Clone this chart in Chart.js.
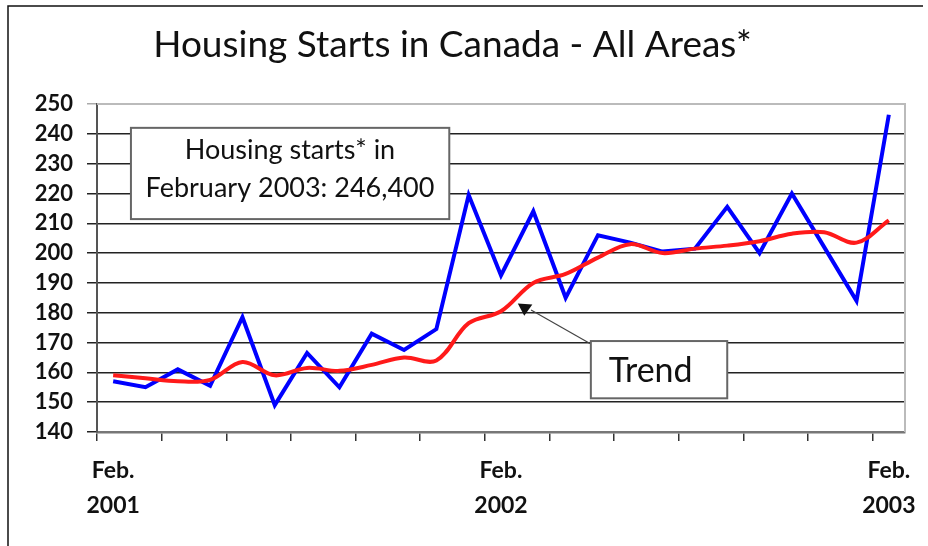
<!DOCTYPE html>
<html>
<head>
<meta charset="utf-8">
<script src="https://cdn.jsdelivr.net/npm/chart.js@4/dist/chart.umd.min.js"></script>
<style>
  html, body { margin: 0; padding: 0; background: #fff; }
  #wrap { width: 928px; height: 546px; position: relative; }
</style>
</head>
<body>
<div id="wrap"><canvas id="myChart"></canvas></div>
<script>
// ---- data ----
const months = [
  "Feb. 2001", "Mar. 2001", "Apr. 2001", "May 2001", "Jun. 2001", "Jul. 2001", "Aug. 2001",
  "Sep. 2001", "Oct. 2001", "Nov. 2001", "Dec. 2001", "Jan. 2002", "Feb. 2002", "Mar. 2002",
  "Apr. 2002", "May 2002", "Jun. 2002", "Jul. 2002", "Aug. 2002", "Sep. 2002", "Oct. 2002",
  "Nov. 2002", "Dec. 2002", "Jan. 2003", "Feb. 2003"
];
const starts = [157, 155, 161, 155.5, 178.5, 149, 166.5, 155, 173, 167.5, 174.5, 219.5, 192.5,
  214, 185, 206, 203.5, 200.5, 201.5, 215.5, 200, 220, 202, 184, 246.4];
const trend = [159, 158, 157, 157.5, 163.5, 159, 161.5, 160.5, 162.5, 165, 164, 176.5, 180.5,
  190, 193, 198.5, 203, 200, 201.5, 202.5, 204, 206.5, 207, 203.5, 211];
const yMin = 140;
const yMax = 250;
const yStep = 10;
const shownLabels = { 0: ["Feb.", "2001"], 12: ["Feb.", "2002"], 24: ["Feb.", "2003"] };
const titleText = "Housing Starts in Canada - All Areas*";
const noteLines = ["Housing starts* in", "February 2003: 246,400"];
const trendLabel = "Trend";

const FONT = "Lato, 'DejaVu Sans', sans-serif";

function box(ctx, x0, y0, x1, y1) {
  ctx.fillStyle = "#fff";
  ctx.fillRect(x0, y0, x1 - x0, y1 - y0);
  ctx.strokeStyle = "#666";
  ctx.lineWidth = 2;
  ctx.strokeRect(x0, y0, x1 - x0, y1 - y0);
}

// frame, plot border and the two callouts
const extras = {
  id: "extras",
  beforeDatasetsDraw(chart) {
    const { ctx, chartArea: a } = chart;
    ctx.save();
    ctx.strokeStyle = "#bbb";
    ctx.lineWidth = 2;
    ctx.beginPath();
    ctx.moveTo(a.left, a.top);
    ctx.lineTo(a.right, a.top);
    ctx.lineTo(a.right, a.bottom);
    ctx.stroke();
    ctx.restore();
  },
  afterDraw(chart) {
    const { ctx } = chart;
    const x = chart.scales.x, y = chart.scales.y;
    const px = (i) => x.getPixelForValue(i);
    const py = (v) => y.getPixelForValue(v);
    ctx.save();

    // outer frame (top + left)
    ctx.strokeStyle = "#111";
    ctx.lineWidth = 1.5;
    ctx.beginPath();
    ctx.moveTo(8, 546);
    ctx.lineTo(8, 6);
    ctx.lineTo(923, 6);
    ctx.stroke();

    // note box
    box(ctx, px(0.55), py(242), px(10.4), py(211.4));
    ctx.fillStyle = "#111";
    ctx.font = "27px " + FONT;
    ctx.textAlign = "center";
    ctx.textBaseline = "middle";
    ctx.fillText(noteLines[0], px(5.47), py(234.6));
    ctx.fillText(noteLines[1], px(5.47), py(221.7));

    // trend arrow
    ctx.strokeStyle = "#444";
    ctx.lineWidth = 1.2;
    ctx.beginPath();
    ctx.moveTo(px(14.78), py(169.5));
    ctx.lineTo(px(12.93), py(180.9));
    ctx.stroke();
    ctx.fillStyle = "#111";
    ctx.beginPath();
    ctx.moveTo(px(12.52), py(183.1));
    ctx.lineTo(px(12.97), py(182.8));
    ctx.lineTo(px(12.72), py(179.0));
    ctx.closePath();
    ctx.fill();

    // trend box
    box(ctx, px(14.78), py(170.5), px(19.0), py(151.3));
    ctx.fillStyle = "#111";
    ctx.font = "34px " + FONT;
    ctx.fillText(trendLabel, px(16.63), py(160.4));
    ctx.restore();
  }
};

const ctx = document.getElementById("myChart");
const myChart = new Chart(ctx, {
  type: "line",
  data: {
    labels: months,
    datasets: [
      {
        label: "Trend",
        data: trend,
        borderColor: "#ff1a1a",
        borderWidth: 4,
        tension: 0.35,
        pointRadius: 0,
        order: 0,
      },
      {
        label: "Housing starts",
        data: starts,
        borderColor: "#0000ff",
        borderWidth: 4,
        tension: 0,
        pointRadius: 0,
        order: 1,
      },
    ],
  },
  options: {
    responsive: true,
    maintainAspectRatio: false,
    animation: false,
    layout: { padding: { left: 0, right: 23, top: 0, bottom: 0 } },
    plugins: {
      legend: { display: false },
      tooltip: { enabled: false },
      title: {
        display: true,
        text: titleText,
        color: "#111",
        font: { family: FONT, size: 37, weight: "normal" },
        padding: { top: 23, bottom: 36.6 },
      },
    },
    scales: {
      x: {
        offset: true,
        afterFit: (scale) => { scale.height = 114; },
        grid: {
          display: true,
          offset: true,
          drawOnChartArea: false,
          drawTicks: true,
          tickLength: 9,
          lineWidth: 1.5,
          color: (c) => (c.index % 2 === 0 && c.index < 25 ? "#333" : "rgba(0,0,0,0)"),
        },
        border: { display: true, color: "#777", width: 2.5 },
        ticks: {
          autoSkip: false,
          maxRotation: 0,
          padding: 12,
          color: "#111",
          font: { family: FONT, size: 23, weight: "bold", lineHeight: "35px" },
          callback: (val, i) => shownLabels[i] || "",
        },
      },
      y: {
        min: yMin,
        max: yMax,
        afterFit: (scale) => { scale.width = 97; },
        grid: {
          tickLength: 10,
          lineWidth: 1.5,
          color: (c) => (c.tick && c.tick.value === yMax ? "#aaa" : "#222"),
        },
        border: { display: true, color: "#555", width: 2 },
        ticks: {
          stepSize: yStep,
          padding: 14,
          color: "#111",
          font: { family: FONT, size: 22, weight: "bold" },
        },
      },
    },
  },
  plugins: [extras],
});
</script>
</body>
</html>
